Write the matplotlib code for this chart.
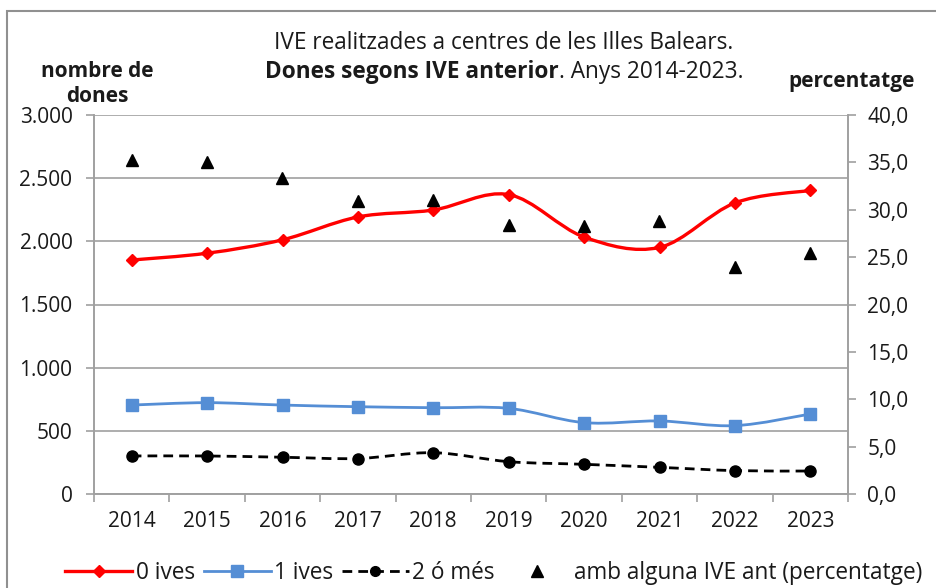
import matplotlib
matplotlib.use('Agg')
import matplotlib.pyplot as plt
from matplotlib.path import Path
from matplotlib.patches import PathPatch, Rectangle
from matplotlib.lines import Line2D
from matplotlib.ticker import FuncFormatter, MultipleLocator

plt.rcParams['font.family'] = ['Open Sans', 'DejaVu Sans']

# Data
years = ['2014', '2015', '2016', '2017', '2018', '2019', '2020', '2021', '2022', '2023']
ives_0 = [1852, 1906, 2012, 2193, 2248, 2370, 2034, 1952, 2304, 2403]
ives_1 = [704, 723, 704, 691, 683, 678, 565, 578, 541, 633]
ives_2 = [301, 301, 291, 281, 327, 256, 235, 211, 185, 182]
pct_ant = [35.2, 35.0, 33.3, 30.9, 31.0, 28.4, 28.3, 28.8, 24.0, 25.4]

RED = '#FF0000'
BLUE = '#558ED5'
GRAY = '#A0A0A0'
TXT = '#1a1a1a'


def smooth_path(xs, ys):
    # Catmull-Rom style bezier, like Excel smoothed lines
    n = len(xs)
    verts = [(xs[0], ys[0])]
    codes = [Path.MOVETO]
    for i in range(n - 1):
        i0 = max(i - 1, 0)
        i3 = min(i + 2, n - 1)
        c1 = (xs[i] + (xs[i + 1] - xs[i0]) / 6, ys[i] + (ys[i + 1] - ys[i0]) / 6)
        c2 = (xs[i + 1] - (xs[i3] - xs[i]) / 6, ys[i + 1] - (ys[i3] - ys[i]) / 6)
        verts += [c1, c2, (xs[i + 1], ys[i + 1])]
        codes += [Path.CURVE4] * 3
    return Path(verts, codes)


fig = plt.figure(figsize=(9.37, 5.88), dpi=100)
ax = fig.add_axes([94 / 937, 1 - 494 / 588, (848 - 94) / 937, (494 - 115) / 588])
ax2 = ax.twinx()

x = list(range(len(years)))

# smoothed lines
ax.add_patch(PathPatch(smooth_path(x, ives_0), fill=False, edgecolor=RED, lw=2.4, zorder=3))
ax.add_patch(PathPatch(smooth_path(x, ives_1), fill=False, edgecolor=BLUE, lw=2.0, zorder=3))
ax.add_patch(PathPatch(smooth_path(x, ives_2), fill=False, edgecolor='black', lw=2.0,
                       linestyle=(0, (3.5, 2.2)), zorder=3))
ax.plot(x, ives_0, linestyle='none', marker='D', color=RED, markersize=6.5, zorder=4)
ax.plot(x, ives_1, linestyle='none', marker='s', color=BLUE, markersize=8, zorder=4)
ax.plot(x, ives_2, linestyle='none', marker='o', color='black', markersize=8, zorder=4)
ax2.plot(x, pct_ant, linestyle='none', marker='^', color='black', markersize=8, zorder=4)

# axes
ax.set_xlim(-0.5, len(years) - 0.5)
ax.set_ylim(0, 3000)
ax2.set_ylim(0, 40)
ax.set_xticks(x)
ax.set_xticklabels(years)
ax.set_xticks([i - 0.5 for i in range(len(years) + 1)], minor=True)
ax.tick_params(axis='x', which='major', length=0, pad=12, labelsize=15, colors=TXT)
ax.tick_params(axis='x', which='minor', length=6, color=GRAY, width=1.2, direction='out')
ax.yaxis.set_major_locator(MultipleLocator(500))
ax.yaxis.set_major_formatter(FuncFormatter(lambda v, p: f'{int(v):,}'.replace(',', '.')))
ax.tick_params(axis='y', length=6, color=GRAY, width=1.2, labelsize=15, pad=9.5, labelcolor=TXT)
ax2.yaxis.set_major_locator(MultipleLocator(5))
ax2.yaxis.set_major_formatter(FuncFormatter(lambda v, p: f'{v:.1f}'.replace('.', ',')))
ax2.tick_params(axis='y', length=6, color=GRAY, width=1.2, labelsize=15, pad=8, labelcolor=TXT)

ax.grid(axis='y', color=GRAY, lw=1.2)
ax.set_axisbelow(True)
for a in (ax, ax2):
    a.spines['top'].set_visible(False)
    for s in ('left', 'right', 'bottom'):
        a.spines[s].set_color(GRAY)
        a.spines[s].set_linewidth(1.2)

# axis titles
fig.text(97 / 937, 1 - 84 / 588, 'nombre de\ndones', ha='center', va='center',
         fontsize=15, fontweight='bold', linespacing=1.3, color=TXT)
fig.text(852 / 937, 1 - 81 / 588, 'percentatge', ha='center', va='center',
         fontsize=15, fontweight='bold', color=TXT)

# title
fig.text(504 / 937, 1 - 43 / 588, 'IVE realitzades a centres de les Illes Balears.',
         ha='center', va='center', fontsize=16.3, color=TXT)
t1 = fig.text(0, 1 - 72 / 588, 'Dones segons IVE anterior', ha='left', va='center',
              fontsize=16.3, fontweight='bold', color=TXT)
t2 = fig.text(0, 1 - 72 / 588, '. Anys 2014-2023.', ha='left', va='center', fontsize=16.3,
              color=TXT)
fig.canvas.draw()
r = fig.canvas.get_renderer()
w1 = t1.get_window_extent(r).width / fig.bbox.width
w2 = t2.get_window_extent(r).width / fig.bbox.width
x0 = 504 / 937 - (w1 + w2) / 2
t1.set_x(x0)
t2.set_x(x0 + w1)

# legend
handles = [
    Line2D([], [], color=RED, lw=2.4, marker='D', markersize=6.5),
    Line2D([], [], color=BLUE, lw=2.0, marker='s', markersize=8),
    Line2D([], [], color='black', lw=2.0, linestyle=(0, (3.5, 2.2)), marker='o', markersize=7),
    Line2D([], [], color='black', linestyle='none', marker='^', markersize=8),
]
labels = ['0 ives', '1 ives', '2 ó més', 'amb alguna IVE ant (percentatge)']
leg = fig.legend(handles, labels, loc='center', bbox_to_anchor=(0.527, 1 - 573 / 588), ncol=4,
                 frameon=False, fontsize=16.3, handlelength=2.95, handletextpad=0.15,
                 columnspacing=0.4)
for t in leg.get_texts():
    t.set_color(TXT)

# outer frame
fig.patches.append(Rectangle((7 / 937, -0.1), 1.2, 1 - 11 / 588 + 0.1,
                             transform=fig.transFigure, fill=False, edgecolor='#909090', lw=1.5))

fig.savefig('out.png', dpi=100)
